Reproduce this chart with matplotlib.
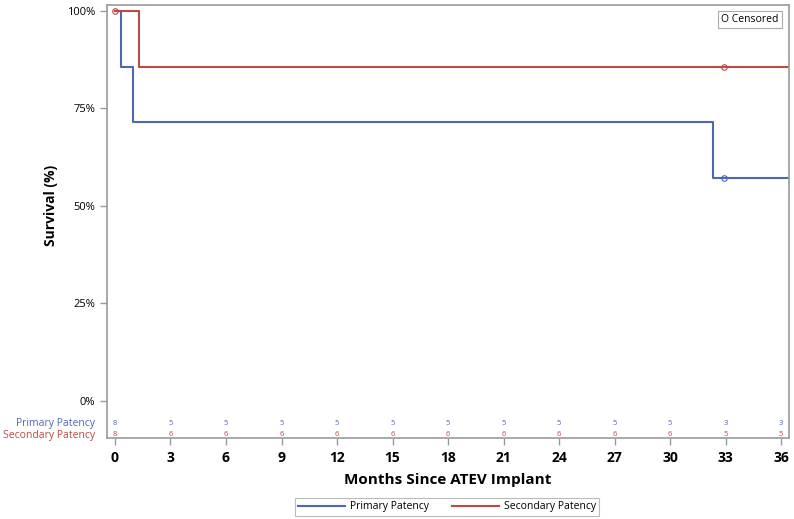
import numpy as np
import matplotlib.pyplot as plt
import matplotlib.transforms as mtransforms
from matplotlib.lines import Line2D

plt.rcParams['font.family'] = ['Open Sans', 'DejaVu Sans']

# Kaplan-Meier step data (months, survival %)
primary_t = [0, 0.35, 1.0, 32.3, 36.4]
primary_s = [100, 85.7, 71.4, 57.1, 57.1]
secondary_t = [0, 1.3, 36.4]
secondary_s = [100, 85.7, 85.7]

# censored marks
primary_cens_t = [32.9]
primary_cens_s = [57.1]
secondary_cens_t = [0, 32.9]
secondary_cens_s = [100, 85.7]

# numbers at risk
risk_times = [0, 3, 6, 9, 12, 15, 18, 21, 24, 27, 30, 33, 36]
primary_risk = [8, 5, 5, 5, 5, 5, 5, 5, 5, 5, 5, 3, 3]
secondary_risk = [8, 6, 6, 6, 6, 6, 6, 6, 6, 6, 6, 5, 5]

blue = '#5066b4'
red = '#bb4a42'
grey = '#9a9a9a'

fig = plt.figure(figsize=(7.94, 5.19), dpi=100)
ax = fig.add_axes([0.1348, 0.156, 0.8589, 0.8344])

ax.step(primary_t, primary_s, where='post', color=blue, lw=1.5)
ax.step(secondary_t, secondary_s, where='post', color=red, lw=1.5)
ax.plot(primary_cens_t, primary_cens_s, 'o', mfc='none', mec=blue, ms=4, mew=0.8)
ax.plot(secondary_cens_t, secondary_cens_s, 'o', mfc='none', mec=red, ms=4, mew=0.8)

ax.set_xlim(-0.43, 36.43)
ax.set_ylim(-9.5, 101.5)
ax.set_xticks(risk_times)
ax.set_xticklabels([str(t) for t in risk_times], fontsize=10, fontweight='bold')
ax.set_yticks([0, 25, 50, 75, 100])
ax.set_yticklabels(['0%', '25%', '50%', '75%', '100%'], fontsize=8)

for sp in ax.spines.values():
    sp.set_color(grey)
    sp.set_linewidth(1.2)
ax.tick_params(axis='both', color=grey, length=5, width=1)
ax.tick_params(axis='x', pad=4)

ax.set_xlabel('Months Since ATEV Implant', fontsize=11, fontweight='bold', labelpad=6)
ax.set_ylabel('Survival (%)', fontsize=10, fontweight='bold')
ax.yaxis.set_label_coords(-0.072, (50 + 9.5) / 111)

# at-risk table inside the plot area
for t, p, s in zip(risk_times, primary_risk, secondary_risk):
    ax.text(t, -5.7, str(p), color=blue, fontsize=5.5, ha='center', va='center')
    ax.text(t, -8.6, str(s), color=red, fontsize=5.5, ha='center', va='center')

trans = mtransforms.blended_transform_factory(fig.transFigure, ax.transData)
fig.text(95 / 794, -5.7, 'Primary Patency', color=blue, fontsize=7.5,
         ha='right', va='center', transform=trans)
fig.text(95 / 794, -8.8, 'Secondary Patency', color=red, fontsize=7.5,
         ha='right', va='center', transform=trans)

# censored inset legend
ax.text(0.985, 0.979, 'O Censored', transform=ax.transAxes, fontsize=7.5,
        ha='right', va='top',
        bbox=dict(boxstyle='square,pad=0.3', fc='white', ec='#aaaaaa', lw=0.8))

# bottom legend
handles = [Line2D([], [], color=blue, lw=1.5), Line2D([], [], color=red, lw=1.5)]
leg = fig.legend(handles, ['Primary Patency', 'Secondary Patency'], loc='center',
                 bbox_to_anchor=(447 / 794, 1 - 507 / 519), ncol=2, fontsize=7.5,
                 frameon=True, fancybox=False, handlelength=4.5, columnspacing=2.2,
                 handletextpad=0.5, borderpad=0.3)
leg.get_frame().set_edgecolor('#aaaaaa')
leg.get_frame().set_linewidth(0.8)

fig.savefig('out.png', dpi=100)
